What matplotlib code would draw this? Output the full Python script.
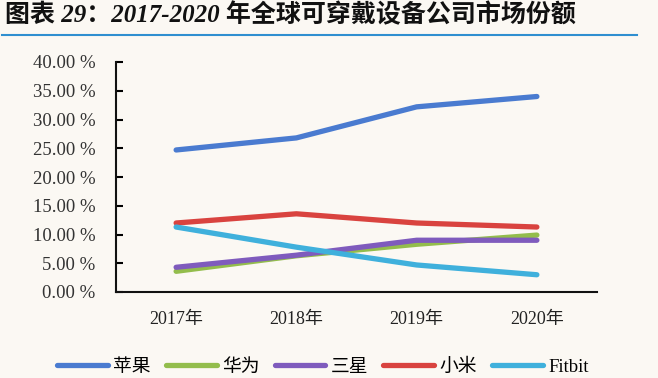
import numpy as np
import matplotlib.pyplot as plt
from matplotlib.lines import Line2D

# Data
years = ["2017年", "2018年", "2019年", "2020年"]
apple = [24.7, 26.8, 32.2, 34.0]
huawei = [3.6, 6.3, 8.3, 9.9]
samsung = [4.3, 6.4, 9.0, 9.0]
xiaomi = [12.0, 13.6, 12.0, 11.3]
fitbit = [11.3, 7.8, 4.7, 3.0]
names = ["苹果", "华为", "三星", "小米", "Fitbit"]
yticks = [0, 5, 10, 15, 20, 25, 30, 35, 40]

colors = ["#4a7bd0", "#93bd4c", "#7f5bbd", "#d9433f", "#3fb0dc"]
bg = "#fbf8f3"
serif = ["Liberation Serif", "Noto Sans CJK SC"]

fig = plt.figure(figsize=(6.58, 3.78), dpi=100, facecolor=bg)
ax = fig.add_axes([116 / 658, 1 - 292 / 378, 481 / 658, 230 / 378])
ax.set_facecolor(bg)

x = np.arange(len(years))
series = [apple, huawei, samsung, xiaomi, fitbit]
# draw order: green under purple
order = [1, 2, 4, 3, 0]
for i in order:
    ax.plot(x, series[i], color=colors[i], lw=3.8, solid_capstyle="round", zorder=3 + i * 0.1)

ax.set_xlim(-0.5, 3.5)
ax.set_ylim(0, 40)
ax.set_yticks(yticks)
ax.set_yticklabels([f"{v:.2f} %" for v in yticks], family=serif, fontsize=13.5, color="#333333")
ax.set_xticks(x)
ax.set_xticklabels(years, family=serif, fontsize=13, color="#222222")

for s in ["top", "right"]:
    ax.spines[s].set_visible(False)
for s in ["left", "bottom"]:
    ax.spines[s].set_linewidth(1.5)
    ax.spines[s].set_color("#111111")
ax.tick_params(axis="y", direction="in", length=5, width=1.5, pad=15)
ax.tick_params(axis="x", length=0, pad=14)

# title
fig.text(5 / 658, 1 - 15 / 378, "图表 29：2017-2020 年全球可穿戴设备公司市场份额",
         family=serif, fontsize=18, fontweight="bold",
         style="italic", va="center", ha="left", color="#111111")
fig.add_artist(Line2D([2 / 658, 637 / 658], [1 - 35 / 378, 1 - 35 / 378], color="#2f8fd0", lw=1.5))

handles = [Line2D([0], [0], color=c, lw=3.8, solid_capstyle="round") for c in colors]
leg = fig.legend(handles, names, loc="center", bbox_to_anchor=(323 / 658, 1 - 367 / 378),
                 ncol=5, frameon=False, handlelength=2.7, handletextpad=0.3, columnspacing=0.8,
                 prop={"family": serif, "size": 13.5})

fig.savefig("out.png", dpi=100, facecolor=bg)
